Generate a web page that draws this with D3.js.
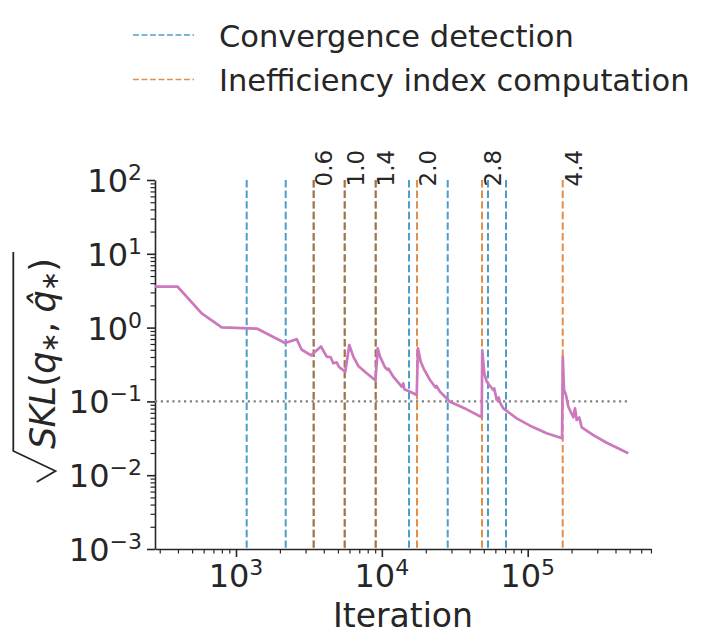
<!DOCTYPE html>
<html>
<head>
<meta charset="utf-8">
<script src="https://cdn.jsdelivr.net/npm/d3@7"></script>
<style>
  html, body { margin: 0; padding: 0; background: #fff; }
  svg { display: block; font-family: "DejaVu Sans", sans-serif; }
</style>
</head>
<body>
<svg id="chart" width="711" height="643"></svg>
<script>
// ---------------- data ----------------
const iterations = [278.4, 398, 582, 798, 1400, 2168, 2608, 2812, 3267, 3826, 4188, 4460, 4645, 4901, 5108, 5615,
  5982, 6373, 6895, 7873, 9046, 9366, 9713, 10510, 10930, 11100, 11980, 13680, 14030, 14250, 15600, 17340,
  17690, 18470, 19460, 21390, 23330, 23700, 25050, 29330, 38170, 48400, 48800, 50400, 52360, 54540, 58090,
  59000, 61330, 63290, 64570, 68030, 84060, 103700, 134900, 172000, 174000, 177400, 183000, 189900, 205400,
  211000, 216700, 225800, 234600, 281700, 348000, 489500];
const sklValues = [3.58, 3.58, 1.563, 1.01, 0.966, 0.618, 0.697, 0.505, 0.419, 0.555, 0.404, 0.396, 0.328, 0.339, 0.290, 0.2526,
  0.581, 0.404, 0.302, 0.2404, 0.192, 0.524, 0.404, 0.290, 0.268, 0.277, 0.216, 0.158, 0.175, 0.146, 0.1353, 0.1221,
  0.524, 0.345, 0.272, 0.195, 0.154, 0.1617, 0.1353, 0.0991, 0.0781, 0.0609, 0.4925, 0.2404, 0.185, 0.1667, 0.1427,
  0.1496, 0.1045, 0.113, 0.0966, 0.0806, 0.059, 0.0469, 0.037, 0.0316, 0.404, 0.1427, 0.122, 0.0847, 0.0609,
  0.0806, 0.056, 0.0605, 0.0446, 0.035, 0.0275, 0.0198];
const convergenceIters = [1184, 2192, 3409, 5564, 9075, 15360, 28290, 53430, 71000];
const inefficiencyIters = [3409, 5564, 9075, 17420, 48620, 173800];
const inefficiencyLabels = ["0.6", "1.0", "1.4", "2.0", "2.8", "4.4"];
const threshold = 0.1;
const xMajorTicks = [1e3, 1e4, 1e5];
const xExponents = ["3", "4", "5"];
const yMajorTicks = [1e-3, 1e-2, 1e-1, 1e0, 1e1, 1e2];
const yExponents = ["\u22123", "\u22122", "\u22121", "0", "1", "2"];
const legendLabels = ["Convergence detection", "Inefficiency index computation"];

// ---------------- layout ----------------
const TXT = "#262626";
const BLUE = "#0173b2", ORANGE = "#d55e00", PINK = "#cc78bc";
const svg = d3.select("#chart");
const L = 155, R = 651, T = 180, B = 549;

const x = d3.scaleLog().domain([278.4, 700500]).range([L, R]);
const y = d3.scaleLog().domain([1e-3, 1e2]).range([B, T]);

function minorTicks(lo, hi) {
  const out = [];
  for (let e = Math.floor(Math.log10(lo)); e <= Math.ceil(Math.log10(hi)); e++) {
    for (let m = 2; m <= 9; m++) {
      const v = m * Math.pow(10, e);
      if (v >= lo && v <= hi) out.push(v);
    }
  }
  return out;
}
const xDom = x.domain(), yDom = y.domain();

// x axis
const gx = svg.append("g").attr("transform", `translate(0,${B})`);
gx.call(d3.axisBottom(x).tickValues(xMajorTicks).tickSize(8).tickSizeOuter(0).tickFormat(""));
const gxm = svg.append("g").attr("transform", `translate(0,${B})`);
gxm.call(d3.axisBottom(x).tickValues(minorTicks(xDom[0], xDom[1])).tickSize(4.5).tickSizeOuter(0).tickFormat(""));
gxm.select(".domain").remove();
// y axis
const gy = svg.append("g").attr("transform", `translate(${L},0)`);
gy.call(d3.axisLeft(y).tickValues(yMajorTicks).tickSize(8).tickSizeOuter(0).tickFormat(""));
const gym = svg.append("g").attr("transform", `translate(${L},0)`);
gym.call(d3.axisLeft(y).tickValues(minorTicks(yDom[0], yDom[1])).tickSize(4.5).tickSizeOuter(0).tickFormat(""));
gym.select(".domain").remove();

svg.selectAll(".domain").attr("stroke", TXT).attr("stroke-width", 1.6);
gx.selectAll(".tick line").attr("stroke", TXT).attr("stroke-width", 1.6);
gy.selectAll(".tick line").attr("stroke", TXT).attr("stroke-width", 1.6);
gxm.selectAll(".tick line").attr("stroke", TXT).attr("stroke-width", 1.2);
gym.selectAll(".tick line").attr("stroke", TXT).attr("stroke-width", 1.2);

// tick labels
xMajorTicks.forEach((v, i) => {
  const t = svg.append("text").attr("x", x(v)).attr("y", 586.7)
    .attr("text-anchor", "middle").attr("font-size", 32).attr("fill", TXT);
  t.append("tspan").text("10");
  t.append("tspan").attr("font-size", 22).attr("dy", -12).text(xExponents[i]);
});
yMajorTicks.forEach((v, i) => {
  const t = svg.append("text").attr("x", 142).attr("y", y(v) + 12)
    .attr("text-anchor", "end").attr("font-size", 32).attr("fill", TXT);
  t.append("tspan").text("10");
  t.append("tspan").attr("font-size", 22).attr("dy", -12).text(yExponents[i]);
});

// axis labels
svg.append("text").attr("x", 403).attr("y", 626.5).attr("text-anchor", "middle")
  .attr("font-size", 33).attr("fill", TXT).text("Iteration");

const yl = svg.append("g").attr("transform", "translate(55,482) rotate(-90)");
yl.append("path").attr("d", "M0,-18.3 L11,0.5 L31,-41.7 L230,-41.7")
  .attr("fill", "none").attr("stroke", TXT).attr("stroke-width", 1.8).attr("stroke-linejoin", "miter");
const ylt = yl.append("text").attr("x", 33).attr("y", 0).attr("font-size", 35).attr("fill", TXT)
  .attr("textLength", 191).attr("lengthAdjust", "spacing");
ylt.append("tspan").attr("font-style", "italic").text("SKL");
ylt.append("tspan").text("(");
ylt.append("tspan").attr("font-style", "italic").text("q");
ylt.append("tspan").attr("font-size", 24).attr("dy", 3).text("\u2217");
ylt.append("tspan").attr("dy", -3).text(", ");
ylt.append("tspan").attr("font-style", "italic").text("q\u0302");
ylt.append("tspan").attr("font-size", 24).attr("dy", 3).text("\u2217");
ylt.append("tspan").attr("dy", -3).text(")");

// threshold dotted line
svg.append("line")
  .attr("x1", x(d3.min(iterations))).attr("x2", x(d3.max(iterations)))
  .attr("y1", y(threshold)).attr("y2", y(threshold))
  .attr("stroke", "#808080").attr("stroke-width", 2.2).attr("stroke-dasharray", "2.2,3.6");

// vertical lines
svg.append("g").selectAll("line").data(convergenceIters).join("line")
  .attr("x1", d => x(d)).attr("x2", d => x(d)).attr("y1", T).attr("y2", B)
  .attr("stroke", BLUE).attr("stroke-opacity", 0.7).attr("stroke-width", 2).attr("stroke-dasharray", "7.4,3.2");
svg.append("g").selectAll("line").data(inefficiencyIters).join("line")
  .attr("x1", d => x(d)).attr("x2", d => x(d)).attr("y1", T).attr("y2", B)
  .attr("stroke", ORANGE).attr("stroke-opacity", 0.7).attr("stroke-width", 2).attr("stroke-dasharray", "7.4,3.2");

// curve
const pts = iterations.map((d, i) => [d, sklValues[i]]);
svg.append("path").datum(pts)
  .attr("d", d3.line().x(d => x(d[0])).y(d => y(d[1])))
  .attr("fill", "none").attr("stroke", PINK).attr("stroke-width", 2.7).attr("stroke-linejoin", "round");

// rotated labels above orange lines
inefficiencyIters.forEach((v, i) => {
  svg.append("text").attr("transform", `translate(${x(v) + 18.8},186.5) rotate(-90)`)
    .attr("font-size", 23).attr("fill", TXT).text(inefficiencyLabels[i]);
});

// legend
const leg = [[BLUE, 35, 46.5], [ORANGE, 79.5, 91]];
leg.forEach(([c, ly, ty], i) => {
  svg.append("line").attr("x1", 133).attr("x2", 194).attr("y1", ly).attr("y2", ly)
    .attr("stroke", c).attr("stroke-opacity", 0.7).attr("stroke-width", 1.6).attr("stroke-dasharray", "5.9,2.6");
  svg.append("text").attr("x", 219).attr("y", ty).attr("font-size", 30.5).attr("fill", TXT).text(legendLabels[i]);
});
</script>
</body>
</html>
